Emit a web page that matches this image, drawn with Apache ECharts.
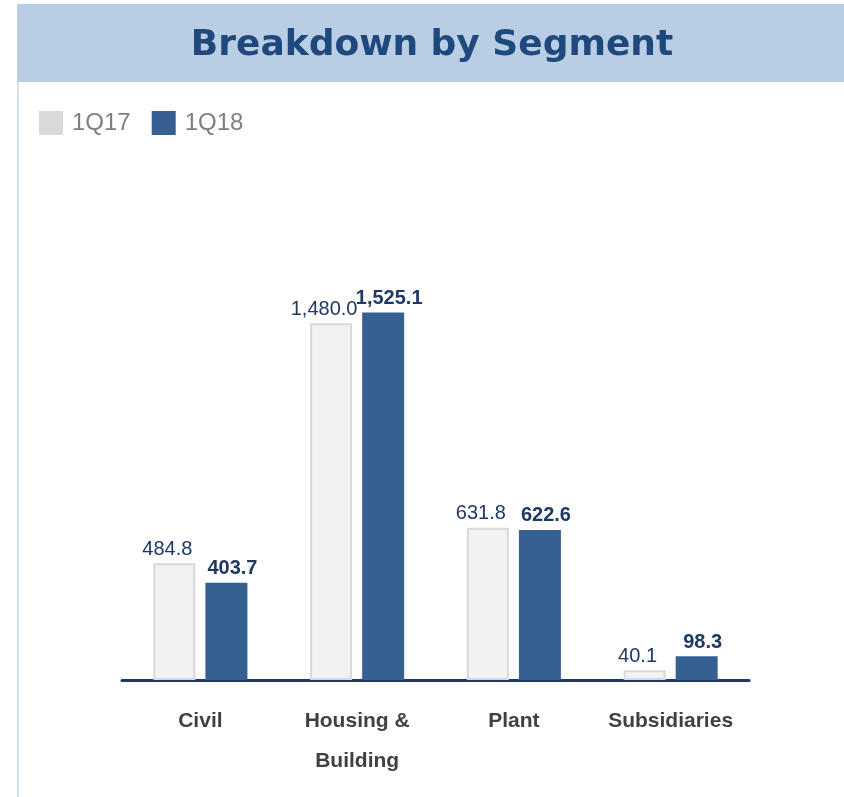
<!DOCTYPE html>
<html>
<head>
<meta charset="utf-8">
<style>
html,body{margin:0;padding:0;background:#fff;}
#chart{width:844px;height:797px;}
</style>
<script src="https://cdn.jsdelivr.net/npm/echarts@6/dist/echarts.min.js"></script>
</head>
<body>
<div id="chart"></div>
<script>
const categories = ['Civil', 'Housing &\nBuilding', 'Plant', 'Subsidiaries'];
const seriesNames = ['1Q17', '1Q18'];
const values1Q17 = [484.8, 1480.0, 631.8, 40.1];
const values1Q18 = [403.7, 1525.1, 622.6, 98.3];

const sans = '"Liberation Sans", Arial, sans-serif';
function fmt(v) {
  const parts = v.toFixed(1).split('.');
  parts[0] = parts[0].replace(/\B(?=(\d{3})+(?!\d))/g, ',');
  return parts.join('.');
}

const chart = echarts.init(document.getElementById('chart'), null, {renderer: 'canvas'});
chart.setOption({
  animation: false,
  graphic: [
    {type: 'rect', shape: {x: 17, y: 4, width: 827, height: 78}, style: {fill: '#b9cde4'}, z: -1},
    {type: 'line', shape: {x1: 18, y1: 82, x2: 18, y2: 797}, style: {stroke: '#c5d6ea', lineWidth: 1.5}, z: -1}
  ],
  title: {
    text: 'Breakdown by Segment',
    left: 432, top: 28, textAlign: 'center', padding: 0,
    textStyle: {fontFamily: '"DejaVu Sans", sans-serif', fontWeight: 'bold', fontSize: 36, color: '#1f497d'}
  },
  legend: {
    left: 39, top: 111, padding: 0,
    itemWidth: 24, itemHeight: 24, itemGap: 21,
    icon: 'rect',
    data: [
      {name: seriesNames[0], itemStyle: {color: '#d9d9d9', borderWidth: 0}},
      {name: seriesNames[1], itemStyle: {color: '#366092'}}
    ],
    textStyle: {fontFamily: sans, fontSize: 24, color: '#7f7f7f', padding: [4, 0, 0, 4]}
  },
  grid: {left: 122, right: 95, top: 198, bottom: 117, containLabel: false},
  xAxis: {
    type: 'category',
    data: categories,
    axisLine: {lineStyle: {color: '#1f3864', width: 3}},
    axisTick: {show: false},
    axisLabel: {
      margin: 21, interval: 0,
      fontFamily: sans, fontSize: 21, fontWeight: 'bold', color: '#404040', lineHeight: 40
    }
  },
  yAxis: {
    type: 'value', min: 0, max: 2000, show: false,
    splitLine: {show: false}
  },
  series: [
    {
      name: seriesNames[0], type: 'bar', data: values1Q17,
      barWidth: 42, barGap: '24%',
      itemStyle: {color: '#f2f2f2', borderColor: '#d9d9d9', borderWidth: 2},
      label: {
        show: true, position: 'top', distance: 4, offset: [-7, 0],
        formatter: p => fmt(p.value),
        fontFamily: sans, fontSize: 20, color: '#1f3864'
      }
    },
    {
      name: seriesNames[1], type: 'bar', data: values1Q18,
      barWidth: 42,
      itemStyle: {color: '#366092'},
      label: {
        show: true, position: 'top', distance: 4, offset: [6, 0],
        formatter: p => fmt(p.value),
        fontFamily: sans, fontSize: 20, fontWeight: 'bold', color: '#1f3864'
      }
    }
  ]
});
</script>
</body>
</html>
